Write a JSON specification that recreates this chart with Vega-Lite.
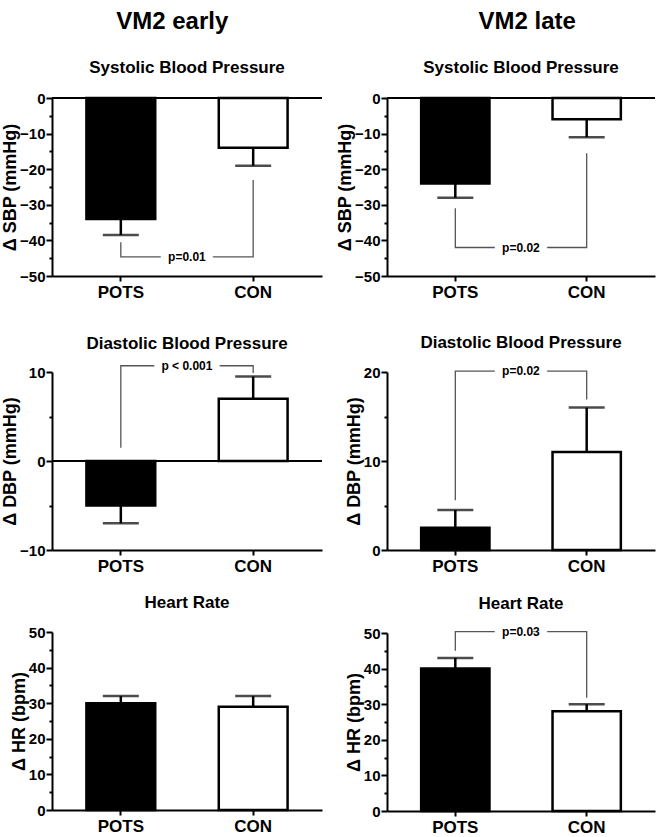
{
  "$schema": "https://vega.github.io/schema/vega-lite/v6.json",
  "background": "white",
  "padding": {"left": 1, "top": 10, "right": 2, "bottom": 0},
  "datasets": {
    "bars": [
      {"panel": "SBP early", "group": "POTS", "mean": -34, "errEnd": -38.5},
      {"panel": "SBP early", "group": "CON", "mean": -14, "errEnd": -19},
      {"panel": "SBP late", "group": "POTS", "mean": -24, "errEnd": -28},
      {"panel": "SBP late", "group": "CON", "mean": -6, "errEnd": -11},
      {"panel": "DBP early", "group": "POTS", "mean": -5, "errEnd": -7},
      {"panel": "DBP early", "group": "CON", "mean": 7, "errEnd": 9.5},
      {"panel": "DBP late", "group": "POTS", "mean": 2.5, "errEnd": 4.5},
      {"panel": "DBP late", "group": "CON", "mean": 11, "errEnd": 16},
      {"panel": "HR early", "group": "POTS", "mean": 30, "errEnd": 32},
      {"panel": "HR early", "group": "CON", "mean": 29, "errEnd": 32},
      {"panel": "HR late", "group": "POTS", "mean": 40, "errEnd": 43},
      {"panel": "HR late", "group": "CON", "mean": 28, "errEnd": 30}
    ],
    "brackets": [
      {"panel": "SBP early", "group": "POTS", "y": -40.5, "step": 1},
      {"panel": "SBP early", "group": "POTS", "y": -44.6, "step": 2},
      {"panel": "SBP early", "group": "CON", "y": -44.6, "step": 3},
      {"panel": "SBP early", "group": "CON", "y": -23, "step": 4},
      {"panel": "SBP late", "group": "POTS", "y": -31, "step": 1},
      {"panel": "SBP late", "group": "POTS", "y": -42, "step": 2},
      {"panel": "SBP late", "group": "CON", "y": -42, "step": 3},
      {"panel": "SBP late", "group": "CON", "y": -15.5, "step": 4},
      {"panel": "DBP early", "group": "POTS", "y": 1.5, "step": 1},
      {"panel": "DBP early", "group": "POTS", "y": 10.7, "step": 2},
      {"panel": "DBP early", "group": "CON", "y": 10.7, "step": 3},
      {"panel": "DBP early", "group": "CON", "y": 9.9, "step": 4},
      {"panel": "DBP late", "group": "POTS", "y": 5.6, "step": 1},
      {"panel": "DBP late", "group": "POTS", "y": 20.1, "step": 2},
      {"panel": "DBP late", "group": "CON", "y": 20.1, "step": 3},
      {"panel": "DBP late", "group": "CON", "y": 16.9, "step": 4},
      {"panel": "HR late", "group": "POTS", "y": 45, "step": 1},
      {"panel": "HR late", "group": "POTS", "y": 50.4, "step": 2},
      {"panel": "HR late", "group": "CON", "y": 50.4, "step": 3},
      {"panel": "HR late", "group": "CON", "y": 31.8, "step": 4}
    ],
    "pvals": [
      {"panel": "SBP early", "group": "POTS", "y": -44.6, "label": "p=0.01"},
      {"panel": "SBP late", "group": "POTS", "y": -42, "label": "p=0.02"},
      {"panel": "DBP early", "group": "POTS", "y": 10.7, "label": "p < 0.001"},
      {"panel": "DBP late", "group": "POTS", "y": 20.1, "label": "p=0.02"},
      {"panel": "HR late", "group": "POTS", "y": 50.4, "label": "p=0.03"}
    ],
    "zero": [{"level": 0}]
  },
  "config": {
    "font": "Liberation Sans",
    "view": {"stroke": null},
    "axis": {"domainColor": "black", "domainWidth": 2, "tickColor": "black", "tickWidth": 2, "labelColor": "black", "labelFontWeight": "bold", "titleFontWeight": "bold", "titleColor": "black", "grid": false, "labelFont": "Liberation Sans", "titleFont": "Liberation Sans"},
    "axisX": {"labelFontSize": 17, "tickSize": 5, "labelPadding": 3, "labelAngle": 0},
    "title": {"fontSize": 17, "fontWeight": "bold", "color": "black", "font": "Liberation Sans", "offset": 10}
  },
  "spacing": 13,
  "hconcat": [
    {
      "title": {"text": "VM2 early", "fontSize": 24, "anchor": "middle", "dx": 10, "offset": 25},
      "spacing": 34,
      "vconcat": [
        {
          "width": 270, "height": 178,
          "title": {"text": "Systolic Blood Pressure", "offset": 14},
          "layer": [
            {"data": {"name": "bars"}, "transform": [{"filter": "datum.panel === 'SBP early'"}],
             "mark": {"type": "bar", "stroke": "black", "strokeWidth": 2.5},
             "encoding": {
               "x": {"field": "group", "type": "nominal", "sort": ["POTS", "CON"], "scale": {"paddingInner": 0.48, "paddingOuter": 0.26}, "axis": {"title": null}},
               "y": {"field": "mean", "type": "quantitative", "scale": {"domain": [-50, 0]}, "axis": {"title": "Δ SBP (mmHg)", "labelOverlap": false, "labelFlush": false, "labelFontSize": 15, "titleFontSize": 18, "labelPadding": 1, "titlePadding": 0, "values": [-50, -45, -40, -35, -30, -25, -20, -15, -10, -5, 0], "labelExpr": "datum.value % 10 === 0 ? datum.label : ''", "tickSize": {"condition": {"test": "datum.value % 10 !== 0", "value": 3}, "value": 6}}},
               "fill": {"field": "group", "type": "nominal", "scale": {"domain": ["POTS", "CON"], "range": ["black", "white"]}, "legend": null}}},
            {"data": {"name": "bars"}, "transform": [{"filter": "datum.panel === 'SBP early'"}],
             "mark": {"type": "rule", "color": "black", "strokeWidth": 2.5},
             "encoding": {"x": {"field": "group", "type": "nominal", "sort": ["POTS", "CON"], "axis": {"title": null}}, "y": {"field": "mean", "type": "quantitative", "axis": {"title": "Δ SBP (mmHg)", "labelOverlap": false, "labelFlush": false, "labelFontSize": 15, "titleFontSize": 18, "labelPadding": 1, "titlePadding": 0, "values": [-50, -45, -40, -35, -30, -25, -20, -15, -10, -5, 0], "labelExpr": "datum.value % 10 === 0 ? datum.label : ''", "tickSize": {"condition": {"test": "datum.value % 10 !== 0", "value": 3}, "value": 6}}}, "y2": {"field": "errEnd"}}},
            {"data": {"name": "bars"}, "transform": [{"filter": "datum.panel === 'SBP early'"}],
             "mark": {"type": "tick", "color": "black", "thickness": 2.5, "size": 36},
             "encoding": {"x": {"field": "group", "type": "nominal", "sort": ["POTS", "CON"], "axis": {"title": null}}, "y": {"field": "errEnd", "type": "quantitative", "axis": {"title": "Δ SBP (mmHg)", "labelOverlap": false, "labelFlush": false, "labelFontSize": 15, "titleFontSize": 18, "labelPadding": 1, "titlePadding": 0, "values": [-50, -45, -40, -35, -30, -25, -20, -15, -10, -5, 0], "labelExpr": "datum.value % 10 === 0 ? datum.label : ''", "tickSize": {"condition": {"test": "datum.value % 10 !== 0", "value": 3}, "value": 6}}}}},
            {"data": {"name": "zero"},
             "mark": {"type": "rule", "color": "black", "strokeWidth": 2},
             "encoding": {"y": {"field": "level", "type": "quantitative", "axis": {"title": "Δ SBP (mmHg)", "labelOverlap": false, "labelFlush": false, "labelFontSize": 15, "titleFontSize": 18, "labelPadding": 1, "titlePadding": 0, "values": [-50, -45, -40, -35, -30, -25, -20, -15, -10, -5, 0], "labelExpr": "datum.value % 10 === 0 ? datum.label : ''", "tickSize": {"condition": {"test": "datum.value % 10 !== 0", "value": 3}, "value": 6}}}}},
            {"data": {"name": "brackets"}, "transform": [{"filter": "datum.panel === 'SBP early'"}],
             "mark": {"type": "line", "color": "#555555", "strokeWidth": 1.3},
             "encoding": {"x": {"field": "group", "type": "nominal", "sort": ["POTS", "CON"], "axis": {"title": null}}, "y": {"field": "y", "type": "quantitative", "axis": {"title": "Δ SBP (mmHg)", "labelOverlap": false, "labelFlush": false, "labelFontSize": 15, "titleFontSize": 18, "labelPadding": 1, "titlePadding": 0, "values": [-50, -45, -40, -35, -30, -25, -20, -15, -10, -5, 0], "labelExpr": "datum.value % 10 === 0 ? datum.label : ''", "tickSize": {"condition": {"test": "datum.value % 10 !== 0", "value": 3}, "value": 6}}}, "order": {"field": "step", "type": "quantitative"}}},
            {"data": {"name": "pvals"}, "transform": [{"filter": "datum.panel === 'SBP early'"}],
             "mark": {"type": "text", "color": "white", "stroke": "white", "strokeWidth": 16, "strokeJoin": "round", "fontSize": 12, "fontWeight": "bold"},
             "encoding": {"x": {"field": "group", "type": "nominal", "sort": ["POTS", "CON"], "bandPosition": 1.46, "axis": {"title": null}}, "y": {"field": "y", "type": "quantitative", "axis": {"title": "Δ SBP (mmHg)", "labelOverlap": false, "labelFlush": false, "labelFontSize": 15, "titleFontSize": 18, "labelPadding": 1, "titlePadding": 0, "values": [-50, -45, -40, -35, -30, -25, -20, -15, -10, -5, 0], "labelExpr": "datum.value % 10 === 0 ? datum.label : ''", "tickSize": {"condition": {"test": "datum.value % 10 !== 0", "value": 3}, "value": 6}}}, "text": {"field": "label"}}},
            {"data": {"name": "pvals"}, "transform": [{"filter": "datum.panel === 'SBP early'"}],
             "mark": {"type": "text", "color": "black", "fontSize": 12, "fontWeight": "bold"},
             "encoding": {"x": {"field": "group", "type": "nominal", "sort": ["POTS", "CON"], "bandPosition": 1.46, "axis": {"title": null}}, "y": {"field": "y", "type": "quantitative", "axis": {"title": "Δ SBP (mmHg)", "labelOverlap": false, "labelFlush": false, "labelFontSize": 15, "titleFontSize": 18, "labelPadding": 1, "titlePadding": 0, "values": [-50, -45, -40, -35, -30, -25, -20, -15, -10, -5, 0], "labelExpr": "datum.value % 10 === 0 ? datum.label : ''", "tickSize": {"condition": {"test": "datum.value % 10 !== 0", "value": 3}, "value": 6}}}, "text": {"field": "label"}}}
          ]
        },
        {
          "spacing": 20,
          "vconcat": [
            {
              "width": 270, "height": 178,
              "title": {"text": "Diastolic Blood Pressure", "offset": 7},
              "layer": [
                {"data": {"name": "bars"}, "transform": [{"filter": "datum.panel === 'DBP early'"}],
                 "mark": {"type": "bar", "stroke": "black", "strokeWidth": 2.5},
                 "encoding": {
                   "x": {"field": "group", "type": "nominal", "sort": ["POTS", "CON"], "scale": {"paddingInner": 0.48, "paddingOuter": 0.26}, "axis": {"title": null}},
                   "y": {"field": "mean", "type": "quantitative", "scale": {"domain": [-10, 10]}, "axis": {"title": "Δ DBP (mmHg)", "labelOverlap": false, "labelFlush": false, "labelFontSize": 15, "titleFontSize": 18, "labelPadding": 1, "titlePadding": 0, "values": [-10, -5, 0, 5, 10], "labelExpr": "datum.value % 10 === 0 ? datum.label : ''", "tickSize": {"condition": {"test": "datum.value % 10 !== 0", "value": 3}, "value": 6}}},
                   "fill": {"field": "group", "type": "nominal", "scale": {"domain": ["POTS", "CON"], "range": ["black", "white"]}, "legend": null}}},
                {"data": {"name": "bars"}, "transform": [{"filter": "datum.panel === 'DBP early'"}],
                 "mark": {"type": "rule", "color": "black", "strokeWidth": 2.5},
                 "encoding": {"x": {"field": "group", "type": "nominal", "sort": ["POTS", "CON"], "axis": {"title": null}}, "y": {"field": "mean", "type": "quantitative", "axis": {"title": "Δ DBP (mmHg)", "labelOverlap": false, "labelFlush": false, "labelFontSize": 15, "titleFontSize": 18, "labelPadding": 1, "titlePadding": 0, "values": [-10, -5, 0, 5, 10], "labelExpr": "datum.value % 10 === 0 ? datum.label : ''", "tickSize": {"condition": {"test": "datum.value % 10 !== 0", "value": 3}, "value": 6}}}, "y2": {"field": "errEnd"}}},
                {"data": {"name": "bars"}, "transform": [{"filter": "datum.panel === 'DBP early'"}],
                 "mark": {"type": "tick", "color": "black", "thickness": 2.5, "size": 36},
                 "encoding": {"x": {"field": "group", "type": "nominal", "sort": ["POTS", "CON"], "axis": {"title": null}}, "y": {"field": "errEnd", "type": "quantitative", "axis": {"title": "Δ DBP (mmHg)", "labelOverlap": false, "labelFlush": false, "labelFontSize": 15, "titleFontSize": 18, "labelPadding": 1, "titlePadding": 0, "values": [-10, -5, 0, 5, 10], "labelExpr": "datum.value % 10 === 0 ? datum.label : ''", "tickSize": {"condition": {"test": "datum.value % 10 !== 0", "value": 3}, "value": 6}}}}},
                {"data": {"name": "zero"},
                 "mark": {"type": "rule", "color": "black", "strokeWidth": 2},
                 "encoding": {"y": {"field": "level", "type": "quantitative", "axis": {"title": "Δ DBP (mmHg)", "labelOverlap": false, "labelFlush": false, "labelFontSize": 15, "titleFontSize": 18, "labelPadding": 1, "titlePadding": 0, "values": [-10, -5, 0, 5, 10], "labelExpr": "datum.value % 10 === 0 ? datum.label : ''", "tickSize": {"condition": {"test": "datum.value % 10 !== 0", "value": 3}, "value": 6}}}}},
                {"data": {"name": "brackets"}, "transform": [{"filter": "datum.panel === 'DBP early'"}],
                 "mark": {"type": "line", "color": "#555555", "strokeWidth": 1.3},
                 "encoding": {"x": {"field": "group", "type": "nominal", "sort": ["POTS", "CON"], "axis": {"title": null}}, "y": {"field": "y", "type": "quantitative", "axis": {"title": "Δ DBP (mmHg)", "labelOverlap": false, "labelFlush": false, "labelFontSize": 15, "titleFontSize": 18, "labelPadding": 1, "titlePadding": 0, "values": [-10, -5, 0, 5, 10], "labelExpr": "datum.value % 10 === 0 ? datum.label : ''", "tickSize": {"condition": {"test": "datum.value % 10 !== 0", "value": 3}, "value": 6}}}, "order": {"field": "step", "type": "quantitative"}}},
                {"data": {"name": "pvals"}, "transform": [{"filter": "datum.panel === 'DBP early'"}],
                 "mark": {"type": "text", "color": "white", "stroke": "white", "strokeWidth": 16, "strokeJoin": "round", "fontSize": 12, "fontWeight": "bold"},
                 "encoding": {"x": {"field": "group", "type": "nominal", "sort": ["POTS", "CON"], "bandPosition": 1.46, "axis": {"title": null}}, "y": {"field": "y", "type": "quantitative", "axis": {"title": "Δ DBP (mmHg)", "labelOverlap": false, "labelFlush": false, "labelFontSize": 15, "titleFontSize": 18, "labelPadding": 1, "titlePadding": 0, "values": [-10, -5, 0, 5, 10], "labelExpr": "datum.value % 10 === 0 ? datum.label : ''", "tickSize": {"condition": {"test": "datum.value % 10 !== 0", "value": 3}, "value": 6}}}, "text": {"field": "label"}}},
                {"data": {"name": "pvals"}, "transform": [{"filter": "datum.panel === 'DBP early'"}],
                 "mark": {"type": "text", "color": "black", "fontSize": 12, "fontWeight": "bold"},
                 "encoding": {"x": {"field": "group", "type": "nominal", "sort": ["POTS", "CON"], "bandPosition": 1.46, "axis": {"title": null}}, "y": {"field": "y", "type": "quantitative", "axis": {"title": "Δ DBP (mmHg)", "labelOverlap": false, "labelFlush": false, "labelFontSize": 15, "titleFontSize": 18, "labelPadding": 1, "titlePadding": 0, "values": [-10, -5, 0, 5, 10], "labelExpr": "datum.value % 10 === 0 ? datum.label : ''", "tickSize": {"condition": {"test": "datum.value % 10 !== 0", "value": 3}, "value": 6}}}, "text": {"field": "label"}}}
              ]
            },
            {
              "width": 270, "height": 178,
              "title": {"text": "Heart Rate", "offset": 13},
              "layer": [
                {"data": {"name": "bars"}, "transform": [{"filter": "datum.panel === 'HR early'"}],
                 "mark": {"type": "bar", "stroke": "black", "strokeWidth": 2.5},
                 "encoding": {
                   "x": {"field": "group", "type": "nominal", "sort": ["POTS", "CON"], "scale": {"paddingInner": 0.48, "paddingOuter": 0.26}, "axis": {"title": null}},
                   "y": {"field": "mean", "type": "quantitative", "scale": {"domain": [0, 50]}, "axis": {"title": "Δ HR (bpm)", "labelOverlap": false, "labelFlush": false, "labelFontSize": 15, "titleFontSize": 18, "labelPadding": 1, "titlePadding": 0, "values": [0, 5, 10, 15, 20, 25, 30, 35, 40, 45, 50], "labelExpr": "datum.value % 10 === 0 ? datum.label : ''", "tickSize": {"condition": {"test": "datum.value % 10 !== 0", "value": 3}, "value": 6}}},
                   "fill": {"field": "group", "type": "nominal", "scale": {"domain": ["POTS", "CON"], "range": ["black", "white"]}, "legend": null}}},
                {"data": {"name": "bars"}, "transform": [{"filter": "datum.panel === 'HR early'"}],
                 "mark": {"type": "rule", "color": "black", "strokeWidth": 2.5},
                 "encoding": {"x": {"field": "group", "type": "nominal", "sort": ["POTS", "CON"], "axis": {"title": null}}, "y": {"field": "mean", "type": "quantitative", "axis": {"title": "Δ HR (bpm)", "labelOverlap": false, "labelFlush": false, "labelFontSize": 15, "titleFontSize": 18, "labelPadding": 1, "titlePadding": 0, "values": [0, 5, 10, 15, 20, 25, 30, 35, 40, 45, 50], "labelExpr": "datum.value % 10 === 0 ? datum.label : ''", "tickSize": {"condition": {"test": "datum.value % 10 !== 0", "value": 3}, "value": 6}}}, "y2": {"field": "errEnd"}}},
                {"data": {"name": "bars"}, "transform": [{"filter": "datum.panel === 'HR early'"}],
                 "mark": {"type": "tick", "color": "black", "thickness": 2.5, "size": 36},
                 "encoding": {"x": {"field": "group", "type": "nominal", "sort": ["POTS", "CON"], "axis": {"title": null}}, "y": {"field": "errEnd", "type": "quantitative", "axis": {"title": "Δ HR (bpm)", "labelOverlap": false, "labelFlush": false, "labelFontSize": 15, "titleFontSize": 18, "labelPadding": 1, "titlePadding": 0, "values": [0, 5, 10, 15, 20, 25, 30, 35, 40, 45, 50], "labelExpr": "datum.value % 10 === 0 ? datum.label : ''", "tickSize": {"condition": {"test": "datum.value % 10 !== 0", "value": 3}, "value": 6}}}}}
              ]
            }
          ]
        }
      ]
    },
    {
      "title": {"text": "VM2 late", "fontSize": 24, "anchor": "middle", "dx": 31, "offset": 25},
      "spacing": 34,
      "vconcat": [
        {
          "width": 268, "height": 178,
          "title": {"text": "Systolic Blood Pressure", "offset": 14},
          "layer": [
            {"data": {"name": "bars"}, "transform": [{"filter": "datum.panel === 'SBP late'"}],
             "mark": {"type": "bar", "stroke": "black", "strokeWidth": 2.5},
             "encoding": {
               "x": {"field": "group", "type": "nominal", "sort": ["POTS", "CON"], "scale": {"paddingInner": 0.48, "paddingOuter": 0.26}, "axis": {"title": null}},
               "y": {"field": "mean", "type": "quantitative", "scale": {"domain": [-50, 0]}, "axis": {"title": "Δ SBP (mmHg)", "labelOverlap": false, "labelFlush": false, "labelFontSize": 15, "titleFontSize": 18, "labelPadding": 1, "titlePadding": 0, "values": [-50, -45, -40, -35, -30, -25, -20, -15, -10, -5, 0], "labelExpr": "datum.value % 10 === 0 ? datum.label : ''", "tickSize": {"condition": {"test": "datum.value % 10 !== 0", "value": 3}, "value": 6}}},
               "fill": {"field": "group", "type": "nominal", "scale": {"domain": ["POTS", "CON"], "range": ["black", "white"]}, "legend": null}}},
            {"data": {"name": "bars"}, "transform": [{"filter": "datum.panel === 'SBP late'"}],
             "mark": {"type": "rule", "color": "black", "strokeWidth": 2.5},
             "encoding": {"x": {"field": "group", "type": "nominal", "sort": ["POTS", "CON"], "axis": {"title": null}}, "y": {"field": "mean", "type": "quantitative", "axis": {"title": "Δ SBP (mmHg)", "labelOverlap": false, "labelFlush": false, "labelFontSize": 15, "titleFontSize": 18, "labelPadding": 1, "titlePadding": 0, "values": [-50, -45, -40, -35, -30, -25, -20, -15, -10, -5, 0], "labelExpr": "datum.value % 10 === 0 ? datum.label : ''", "tickSize": {"condition": {"test": "datum.value % 10 !== 0", "value": 3}, "value": 6}}}, "y2": {"field": "errEnd"}}},
            {"data": {"name": "bars"}, "transform": [{"filter": "datum.panel === 'SBP late'"}],
             "mark": {"type": "tick", "color": "black", "thickness": 2.5, "size": 36},
             "encoding": {"x": {"field": "group", "type": "nominal", "sort": ["POTS", "CON"], "axis": {"title": null}}, "y": {"field": "errEnd", "type": "quantitative", "axis": {"title": "Δ SBP (mmHg)", "labelOverlap": false, "labelFlush": false, "labelFontSize": 15, "titleFontSize": 18, "labelPadding": 1, "titlePadding": 0, "values": [-50, -45, -40, -35, -30, -25, -20, -15, -10, -5, 0], "labelExpr": "datum.value % 10 === 0 ? datum.label : ''", "tickSize": {"condition": {"test": "datum.value % 10 !== 0", "value": 3}, "value": 6}}}}},
            {"data": {"name": "zero"},
             "mark": {"type": "rule", "color": "black", "strokeWidth": 2},
             "encoding": {"y": {"field": "level", "type": "quantitative", "axis": {"title": "Δ SBP (mmHg)", "labelOverlap": false, "labelFlush": false, "labelFontSize": 15, "titleFontSize": 18, "labelPadding": 1, "titlePadding": 0, "values": [-50, -45, -40, -35, -30, -25, -20, -15, -10, -5, 0], "labelExpr": "datum.value % 10 === 0 ? datum.label : ''", "tickSize": {"condition": {"test": "datum.value % 10 !== 0", "value": 3}, "value": 6}}}}},
            {"data": {"name": "brackets"}, "transform": [{"filter": "datum.panel === 'SBP late'"}],
             "mark": {"type": "line", "color": "#555555", "strokeWidth": 1.3},
             "encoding": {"x": {"field": "group", "type": "nominal", "sort": ["POTS", "CON"], "axis": {"title": null}}, "y": {"field": "y", "type": "quantitative", "axis": {"title": "Δ SBP (mmHg)", "labelOverlap": false, "labelFlush": false, "labelFontSize": 15, "titleFontSize": 18, "labelPadding": 1, "titlePadding": 0, "values": [-50, -45, -40, -35, -30, -25, -20, -15, -10, -5, 0], "labelExpr": "datum.value % 10 === 0 ? datum.label : ''", "tickSize": {"condition": {"test": "datum.value % 10 !== 0", "value": 3}, "value": 6}}}, "order": {"field": "step", "type": "quantitative"}}},
            {"data": {"name": "pvals"}, "transform": [{"filter": "datum.panel === 'SBP late'"}],
             "mark": {"type": "text", "color": "white", "stroke": "white", "strokeWidth": 16, "strokeJoin": "round", "fontSize": 12, "fontWeight": "bold"},
             "encoding": {"x": {"field": "group", "type": "nominal", "sort": ["POTS", "CON"], "bandPosition": 1.46, "axis": {"title": null}}, "y": {"field": "y", "type": "quantitative", "axis": {"title": "Δ SBP (mmHg)", "labelOverlap": false, "labelFlush": false, "labelFontSize": 15, "titleFontSize": 18, "labelPadding": 1, "titlePadding": 0, "values": [-50, -45, -40, -35, -30, -25, -20, -15, -10, -5, 0], "labelExpr": "datum.value % 10 === 0 ? datum.label : ''", "tickSize": {"condition": {"test": "datum.value % 10 !== 0", "value": 3}, "value": 6}}}, "text": {"field": "label"}}},
            {"data": {"name": "pvals"}, "transform": [{"filter": "datum.panel === 'SBP late'"}],
             "mark": {"type": "text", "color": "black", "fontSize": 12, "fontWeight": "bold"},
             "encoding": {"x": {"field": "group", "type": "nominal", "sort": ["POTS", "CON"], "bandPosition": 1.46, "axis": {"title": null}}, "y": {"field": "y", "type": "quantitative", "axis": {"title": "Δ SBP (mmHg)", "labelOverlap": false, "labelFlush": false, "labelFontSize": 15, "titleFontSize": 18, "labelPadding": 1, "titlePadding": 0, "values": [-50, -45, -40, -35, -30, -25, -20, -15, -10, -5, 0], "labelExpr": "datum.value % 10 === 0 ? datum.label : ''", "tickSize": {"condition": {"test": "datum.value % 10 !== 0", "value": 3}, "value": 6}}}, "text": {"field": "label"}}}
          ]
        },
        {
          "spacing": 20,
          "vconcat": [
            {
              "width": 268, "height": 178,
              "title": {"text": "Diastolic Blood Pressure", "offset": 13},
              "layer": [
                {"data": {"name": "bars"}, "transform": [{"filter": "datum.panel === 'DBP late'"}],
                 "mark": {"type": "bar", "stroke": "black", "strokeWidth": 2.5},
                 "encoding": {
                   "x": {"field": "group", "type": "nominal", "sort": ["POTS", "CON"], "scale": {"paddingInner": 0.48, "paddingOuter": 0.26}, "axis": {"title": null}},
                   "y": {"field": "mean", "type": "quantitative", "scale": {"domain": [0, 20]}, "axis": {"title": "Δ DBP (mmHg)", "labelOverlap": false, "labelFlush": false, "labelFontSize": 15, "titleFontSize": 18, "labelPadding": 1, "titlePadding": 0, "values": [0, 5, 10, 15, 20], "labelExpr": "datum.value % 10 === 0 ? datum.label : ''", "tickSize": {"condition": {"test": "datum.value % 10 !== 0", "value": 3}, "value": 6}}},
                   "fill": {"field": "group", "type": "nominal", "scale": {"domain": ["POTS", "CON"], "range": ["black", "white"]}, "legend": null}}},
                {"data": {"name": "bars"}, "transform": [{"filter": "datum.panel === 'DBP late'"}],
                 "mark": {"type": "rule", "color": "black", "strokeWidth": 2.5},
                 "encoding": {"x": {"field": "group", "type": "nominal", "sort": ["POTS", "CON"], "axis": {"title": null}}, "y": {"field": "mean", "type": "quantitative", "axis": {"title": "Δ DBP (mmHg)", "labelOverlap": false, "labelFlush": false, "labelFontSize": 15, "titleFontSize": 18, "labelPadding": 1, "titlePadding": 0, "values": [0, 5, 10, 15, 20], "labelExpr": "datum.value % 10 === 0 ? datum.label : ''", "tickSize": {"condition": {"test": "datum.value % 10 !== 0", "value": 3}, "value": 6}}}, "y2": {"field": "errEnd"}}},
                {"data": {"name": "bars"}, "transform": [{"filter": "datum.panel === 'DBP late'"}],
                 "mark": {"type": "tick", "color": "black", "thickness": 2.5, "size": 36},
                 "encoding": {"x": {"field": "group", "type": "nominal", "sort": ["POTS", "CON"], "axis": {"title": null}}, "y": {"field": "errEnd", "type": "quantitative", "axis": {"title": "Δ DBP (mmHg)", "labelOverlap": false, "labelFlush": false, "labelFontSize": 15, "titleFontSize": 18, "labelPadding": 1, "titlePadding": 0, "values": [0, 5, 10, 15, 20], "labelExpr": "datum.value % 10 === 0 ? datum.label : ''", "tickSize": {"condition": {"test": "datum.value % 10 !== 0", "value": 3}, "value": 6}}}}},
                {"data": {"name": "brackets"}, "transform": [{"filter": "datum.panel === 'DBP late'"}],
                 "mark": {"type": "line", "color": "#555555", "strokeWidth": 1.3},
                 "encoding": {"x": {"field": "group", "type": "nominal", "sort": ["POTS", "CON"], "axis": {"title": null}}, "y": {"field": "y", "type": "quantitative", "axis": {"title": "Δ DBP (mmHg)", "labelOverlap": false, "labelFlush": false, "labelFontSize": 15, "titleFontSize": 18, "labelPadding": 1, "titlePadding": 0, "values": [0, 5, 10, 15, 20], "labelExpr": "datum.value % 10 === 0 ? datum.label : ''", "tickSize": {"condition": {"test": "datum.value % 10 !== 0", "value": 3}, "value": 6}}}, "order": {"field": "step", "type": "quantitative"}}},
                {"data": {"name": "pvals"}, "transform": [{"filter": "datum.panel === 'DBP late'"}],
                 "mark": {"type": "text", "color": "white", "stroke": "white", "strokeWidth": 16, "strokeJoin": "round", "fontSize": 12, "fontWeight": "bold"},
                 "encoding": {"x": {"field": "group", "type": "nominal", "sort": ["POTS", "CON"], "bandPosition": 1.46, "axis": {"title": null}}, "y": {"field": "y", "type": "quantitative", "axis": {"title": "Δ DBP (mmHg)", "labelOverlap": false, "labelFlush": false, "labelFontSize": 15, "titleFontSize": 18, "labelPadding": 1, "titlePadding": 0, "values": [0, 5, 10, 15, 20], "labelExpr": "datum.value % 10 === 0 ? datum.label : ''", "tickSize": {"condition": {"test": "datum.value % 10 !== 0", "value": 3}, "value": 6}}}, "text": {"field": "label"}}},
                {"data": {"name": "pvals"}, "transform": [{"filter": "datum.panel === 'DBP late'"}],
                 "mark": {"type": "text", "color": "black", "fontSize": 12, "fontWeight": "bold"},
                 "encoding": {"x": {"field": "group", "type": "nominal", "sort": ["POTS", "CON"], "bandPosition": 1.46, "axis": {"title": null}}, "y": {"field": "y", "type": "quantitative", "axis": {"title": "Δ DBP (mmHg)", "labelOverlap": false, "labelFlush": false, "labelFontSize": 15, "titleFontSize": 18, "labelPadding": 1, "titlePadding": 0, "values": [0, 5, 10, 15, 20], "labelExpr": "datum.value % 10 === 0 ? datum.label : ''", "tickSize": {"condition": {"test": "datum.value % 10 !== 0", "value": 3}, "value": 6}}}, "text": {"field": "label"}}}
              ]
            },
            {
              "width": 268, "height": 178,
              "title": {"text": "Heart Rate", "offset": 13},
              "layer": [
                {"data": {"name": "bars"}, "transform": [{"filter": "datum.panel === 'HR late'"}],
                 "mark": {"type": "bar", "stroke": "black", "strokeWidth": 2.5},
                 "encoding": {
                   "x": {"field": "group", "type": "nominal", "sort": ["POTS", "CON"], "scale": {"paddingInner": 0.48, "paddingOuter": 0.26}, "axis": {"title": null}},
                   "y": {"field": "mean", "type": "quantitative", "scale": {"domain": [0, 50]}, "axis": {"title": "Δ HR (bpm)", "labelOverlap": false, "labelFlush": false, "labelFontSize": 15, "titleFontSize": 18, "labelPadding": 1, "titlePadding": 0, "values": [0, 5, 10, 15, 20, 25, 30, 35, 40, 45, 50], "labelExpr": "datum.value % 10 === 0 ? datum.label : ''", "tickSize": {"condition": {"test": "datum.value % 10 !== 0", "value": 3}, "value": 6}}},
                   "fill": {"field": "group", "type": "nominal", "scale": {"domain": ["POTS", "CON"], "range": ["black", "white"]}, "legend": null}}},
                {"data": {"name": "bars"}, "transform": [{"filter": "datum.panel === 'HR late'"}],
                 "mark": {"type": "rule", "color": "black", "strokeWidth": 2.5},
                 "encoding": {"x": {"field": "group", "type": "nominal", "sort": ["POTS", "CON"], "axis": {"title": null}}, "y": {"field": "mean", "type": "quantitative", "axis": {"title": "Δ HR (bpm)", "labelOverlap": false, "labelFlush": false, "labelFontSize": 15, "titleFontSize": 18, "labelPadding": 1, "titlePadding": 0, "values": [0, 5, 10, 15, 20, 25, 30, 35, 40, 45, 50], "labelExpr": "datum.value % 10 === 0 ? datum.label : ''", "tickSize": {"condition": {"test": "datum.value % 10 !== 0", "value": 3}, "value": 6}}}, "y2": {"field": "errEnd"}}},
                {"data": {"name": "bars"}, "transform": [{"filter": "datum.panel === 'HR late'"}],
                 "mark": {"type": "tick", "color": "black", "thickness": 2.5, "size": 36},
                 "encoding": {"x": {"field": "group", "type": "nominal", "sort": ["POTS", "CON"], "axis": {"title": null}}, "y": {"field": "errEnd", "type": "quantitative", "axis": {"title": "Δ HR (bpm)", "labelOverlap": false, "labelFlush": false, "labelFontSize": 15, "titleFontSize": 18, "labelPadding": 1, "titlePadding": 0, "values": [0, 5, 10, 15, 20, 25, 30, 35, 40, 45, 50], "labelExpr": "datum.value % 10 === 0 ? datum.label : ''", "tickSize": {"condition": {"test": "datum.value % 10 !== 0", "value": 3}, "value": 6}}}}},
                {"data": {"name": "brackets"}, "transform": [{"filter": "datum.panel === 'HR late'"}],
                 "mark": {"type": "line", "color": "#555555", "strokeWidth": 1.3},
                 "encoding": {"x": {"field": "group", "type": "nominal", "sort": ["POTS", "CON"], "axis": {"title": null}}, "y": {"field": "y", "type": "quantitative", "axis": {"title": "Δ HR (bpm)", "labelOverlap": false, "labelFlush": false, "labelFontSize": 15, "titleFontSize": 18, "labelPadding": 1, "titlePadding": 0, "values": [0, 5, 10, 15, 20, 25, 30, 35, 40, 45, 50], "labelExpr": "datum.value % 10 === 0 ? datum.label : ''", "tickSize": {"condition": {"test": "datum.value % 10 !== 0", "value": 3}, "value": 6}}}, "order": {"field": "step", "type": "quantitative"}}},
                {"data": {"name": "pvals"}, "transform": [{"filter": "datum.panel === 'HR late'"}],
                 "mark": {"type": "text", "color": "white", "stroke": "white", "strokeWidth": 16, "strokeJoin": "round", "fontSize": 12, "fontWeight": "bold"},
                 "encoding": {"x": {"field": "group", "type": "nominal", "sort": ["POTS", "CON"], "bandPosition": 1.46, "axis": {"title": null}}, "y": {"field": "y", "type": "quantitative", "axis": {"title": "Δ HR (bpm)", "labelOverlap": false, "labelFlush": false, "labelFontSize": 15, "titleFontSize": 18, "labelPadding": 1, "titlePadding": 0, "values": [0, 5, 10, 15, 20, 25, 30, 35, 40, 45, 50], "labelExpr": "datum.value % 10 === 0 ? datum.label : ''", "tickSize": {"condition": {"test": "datum.value % 10 !== 0", "value": 3}, "value": 6}}}, "text": {"field": "label"}}},
                {"data": {"name": "pvals"}, "transform": [{"filter": "datum.panel === 'HR late'"}],
                 "mark": {"type": "text", "color": "black", "fontSize": 12, "fontWeight": "bold"},
                 "encoding": {"x": {"field": "group", "type": "nominal", "sort": ["POTS", "CON"], "bandPosition": 1.46, "axis": {"title": null}}, "y": {"field": "y", "type": "quantitative", "axis": {"title": "Δ HR (bpm)", "labelOverlap": false, "labelFlush": false, "labelFontSize": 15, "titleFontSize": 18, "labelPadding": 1, "titlePadding": 0, "values": [0, 5, 10, 15, 20, 25, 30, 35, 40, 45, 50], "labelExpr": "datum.value % 10 === 0 ? datum.label : ''", "tickSize": {"condition": {"test": "datum.value % 10 !== 0", "value": 3}, "value": 6}}}, "text": {"field": "label"}}}
              ]
            }
          ]
        }
      ]
    }
  ]
}
